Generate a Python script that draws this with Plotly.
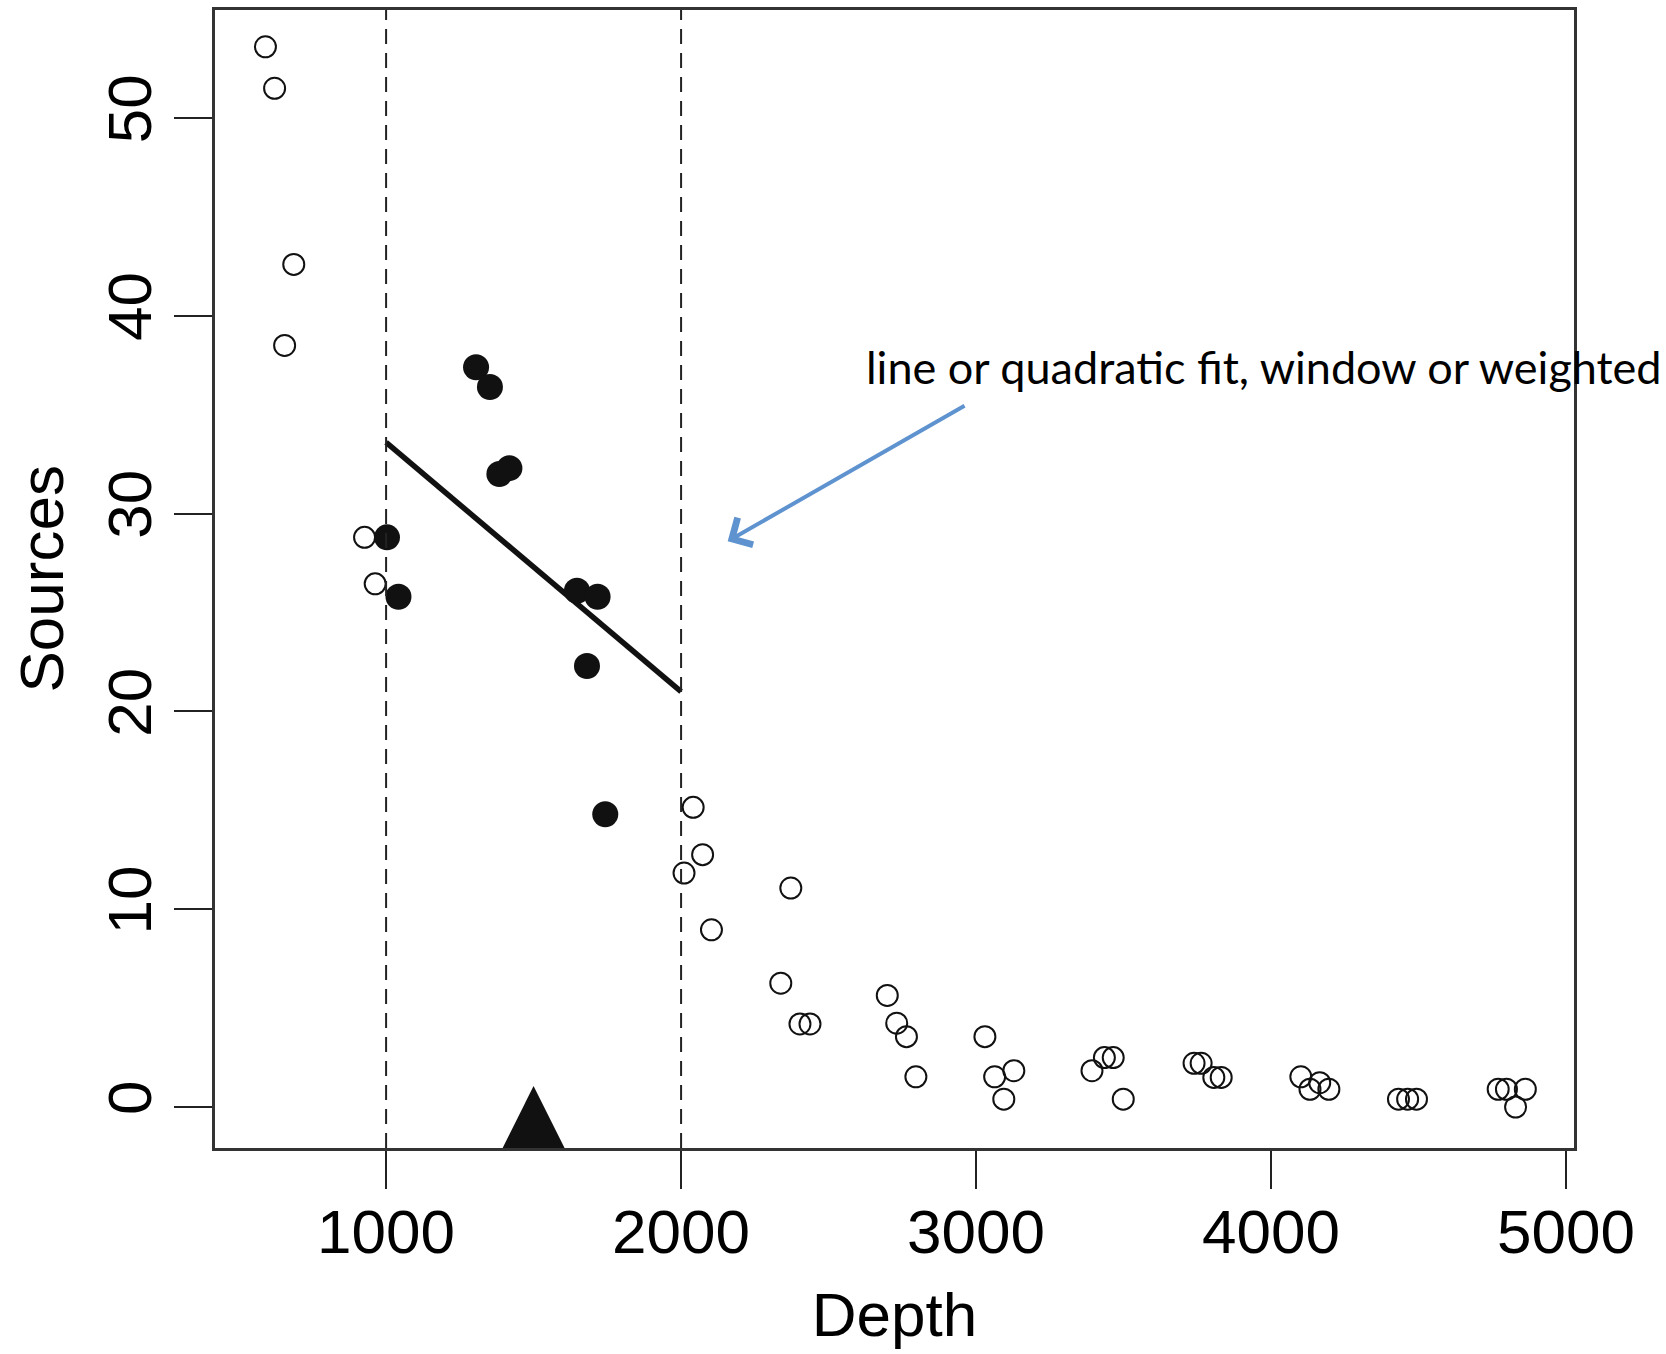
import plotly.graph_objects as go

# ---- data ----
open_depth = [591, 622, 656, 687, 927, 963,
              2010, 2041, 2073, 2103, 2338, 2372, 2403, 2437,
              2699, 2731, 2764, 2796, 3030, 3063, 3094, 3128,
              3393, 3435, 3465, 3499, 3739, 3763, 3806, 3831,
              4101, 4132, 4165, 4196, 4432, 4463, 4493,
              4770, 4798, 4829, 4862]
open_sources = [53.6, 51.5, 38.5, 42.6, 28.8, 26.45,
                11.83, 15.15, 12.76, 8.96, 6.26, 11.07, 4.2, 4.2,
                5.64, 4.24, 3.56, 1.53, 3.56, 1.53, 0.4, 1.84,
                1.84, 2.5, 2.5, 0.4, 2.21, 2.21, 1.5, 1.5,
                1.53, 0.9, 1.23, 0.9, 0.4, 0.4, 0.4,
                0.9, 0.9, 0.0, 0.9]

window_depth = [1003, 1042, 1305, 1352, 1384, 1418, 1647, 1681, 1717, 1743]
window_sources = [28.8, 25.8, 37.4, 36.4, 32.0, 32.3, 26.1, 22.3, 25.8, 14.8]

fit_depth = [1000, 2000]
fit_sources = [33.6, 21.0]

window_bounds = [1000, 2000]
target_depth = [1500]
target_level = [1.06]

x_ticks = [1000, 2000, 3000, 4000, 5000]
y_ticks = [0, 10, 20, 30, 40, 50]
x_range = [420, 5027]
y_range = [-2.07, 55.46]

x_title = "Depth"
y_title = "Sources"
annotation_text = "line or quadratic fit, window or weighted"
arrow_tip = (2158, 28.6)
arrow_tail = (2966, 35.5)

AX_FONT = "Liberation Sans, Arial, Helvetica, sans-serif"

fig = go.Figure()

fig.add_trace(go.Scatter(
    x=open_depth, y=open_sources, mode="markers",
    marker=dict(symbol="circle-open", size=21, color="#111111",
                line=dict(width=2, color="#111111")),
    showlegend=False, hoverinfo="x+y"))

fig.add_trace(go.Scatter(
    x=window_depth, y=window_sources, mode="markers",
    marker=dict(symbol="circle", size=26, color="#111111"),
    showlegend=False, hoverinfo="x+y"))

fig.add_trace(go.Scatter(
    x=fit_depth, y=fit_sources, mode="lines",
    line=dict(color="#111111", width=5.5),
    showlegend=False, hoverinfo="skip"))

fig.add_trace(go.Scatter(
    x=target_depth, y=target_level, mode="markers",
    marker=dict(symbol="arrow-up", size=68, color="#111111", line=dict(width=0)),
    cliponaxis=True, showlegend=False, hoverinfo="x"))

for b in window_bounds:
    fig.add_shape(type="line", xref="x", yref="paper", x0=b, x1=b, y0=0, y1=1,
                  line=dict(color="#222222", width=2, dash="15px,9px"), layer="above")

fig.add_annotation(
    x=arrow_tip[0], y=arrow_tip[1], ax=arrow_tail[0], ay=arrow_tail[1],
    xref="x", yref="y", axref="x", ayref="y", text="",
    showarrow=True, arrowhead=4, arrowsize=1.5, arrowwidth=4,
    arrowcolor="#5E93CF")

fig.add_annotation(
    x=0.4775, y=0.6863, xref="paper", yref="paper", xanchor="left", yanchor="middle",
    text=annotation_text, showarrow=False,
    font=dict(family="Lato, Open Sans, sans-serif", size=45, color="#000000"))

# y-axis title placed as a rotated annotation (axis title standoff is ignored without automargin)
fig.add_annotation(
    x=-0.1284, y=0.5, xref="paper", yref="paper", xanchor="center", yanchor="middle",
    text=y_title, textangle=-90, showarrow=False,
    font=dict(family=AX_FONT, size=62, color="#000000"))

axis_common = dict(
    showline=True, linewidth=3, linecolor="#333333", mirror=True,
    ticks="outside", ticklen=38, tickwidth=2, tickcolor="#222222",
    showgrid=False, zeroline=False, automargin=False,
    tickfont=dict(family=AX_FONT, size=62, color="#000000"),
)

fig.update_xaxes(range=x_range, tickvals=x_ticks, ticklabelstandoff=-10,
                 title=dict(text=x_title, standoff=28,
                            font=dict(family=AX_FONT, size=62, color="#000000")),
                 **axis_common)
fig.update_yaxes(range=y_range, tickvals=y_ticks, tickangle=-90, ticklabelstandoff=-2,
                 **axis_common)

fig.update_layout(
    width=1666, height=1354,
    margin=dict(l=215, r=92, t=10, b=206),
    plot_bgcolor="white", paper_bgcolor="white",
)

# remove the browser's default 8px body margin so the figure fills the window exactly
fig.write_html("out.html", config={"displayModeBar": False},
               post_script="document.body.style.margin='0';document.body.style.overflow='hidden';")
